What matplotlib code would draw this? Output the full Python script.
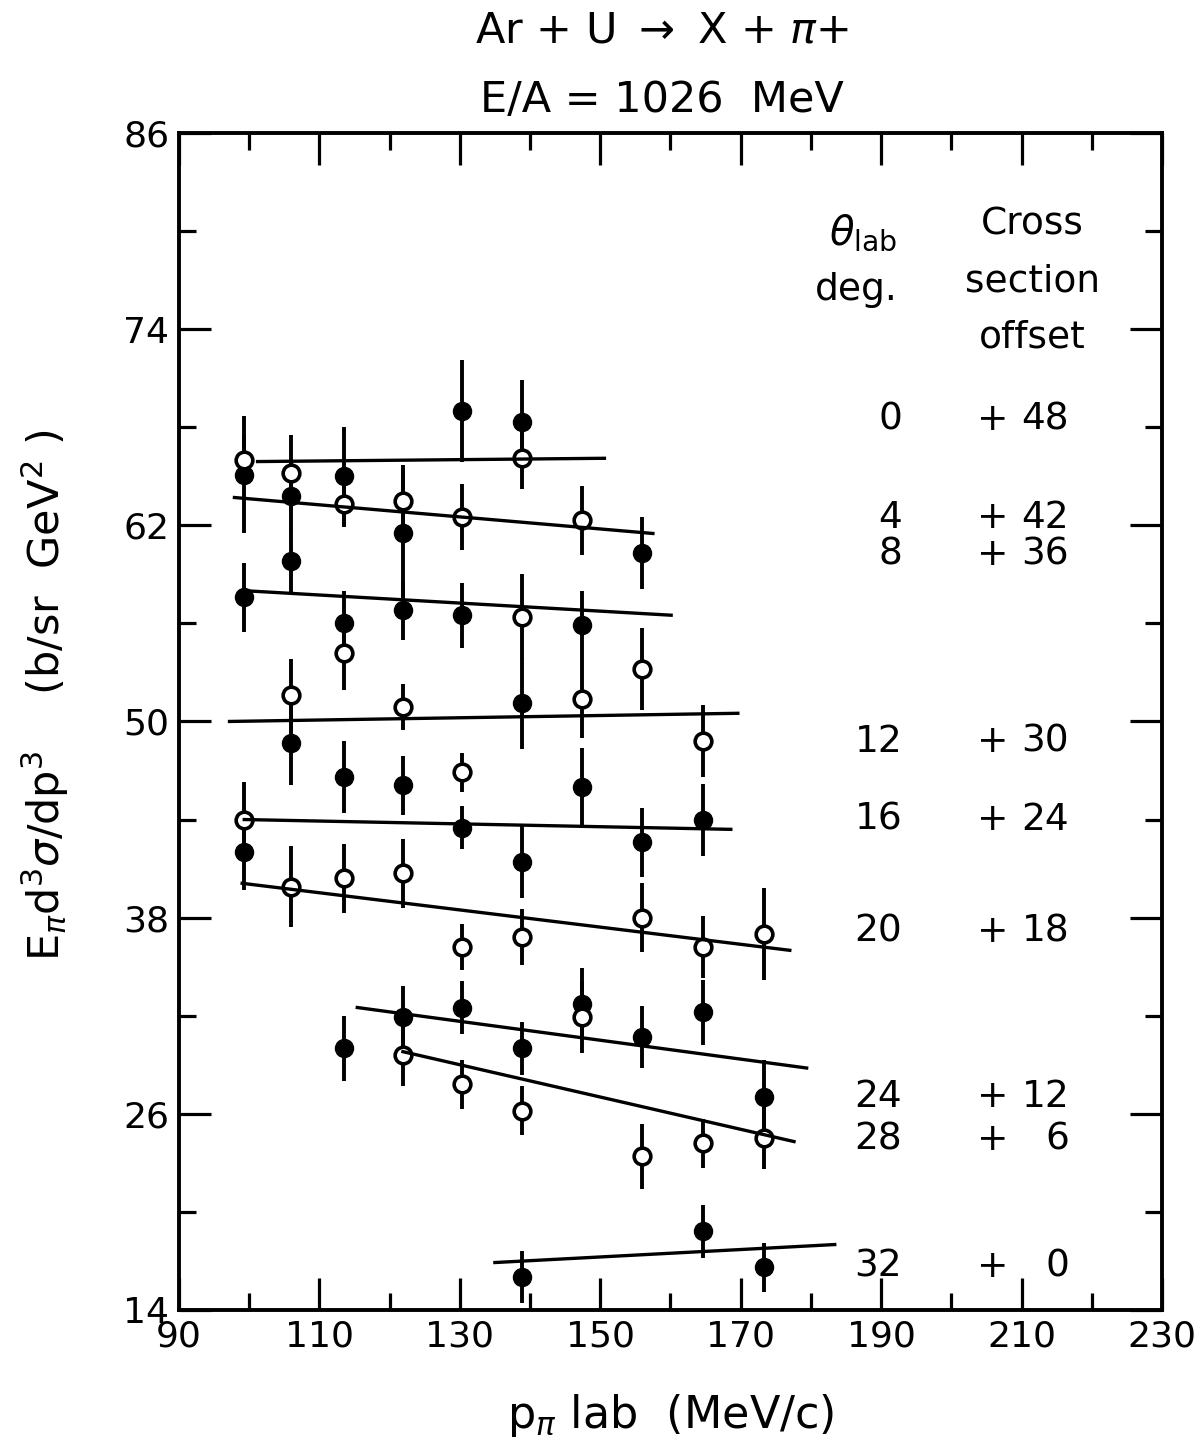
import matplotlib
matplotlib.use("Agg")
import matplotlib.pyplot as plt
import numpy as np
from matplotlib.ticker import FixedLocator

# filled circles: momentum (MeV/c), offset cross section, error
filled_p = [99.3, 99.3, 99.3, 106.0, 106.0, 106.0, 113.5, 113.5, 113.5, 113.5,
            121.9, 121.9, 121.9, 121.9, 130.3, 130.3, 130.3, 130.3,
            138.9, 138.9, 138.9, 138.9, 138.9, 147.4, 147.4, 147.4,
            155.9, 155.9, 155.9, 164.7, 164.7, 164.7, 173.3, 173.3]
filled_y = [65.1, 57.6, 42.0, 63.8, 59.8, 48.7, 65.0, 56.0, 46.6, 30.0,
            61.5, 56.8, 46.1, 31.9, 69.0, 56.5, 43.5, 32.5,
            68.3, 51.1, 41.4, 30.0, 16.0, 55.9, 46.0, 32.7,
            60.3, 42.6, 30.7, 44.0, 32.2, 18.8, 27.0, 16.6]
filled_err = [3.6, 2.1, 2.3, 2.1, 2.0, 2.6, 3.0, 2.0, 2.2, 2.0,
              4.2, 1.8, 1.8, 1.9, 3.1, 2.0, 1.3, 1.6,
              2.6, 2.8, 2.2, 1.6, 1.6, 2.1, 2.4, 2.2,
              2.2, 2.1, 1.9, 2.2, 2.0, 1.6, 2.3, 1.5]

# open circles
open_p = [99.3, 99.3, 106.0, 106.0, 106.0, 113.5, 113.5, 113.5,
          121.9, 121.9, 121.9, 121.9, 130.3, 130.3, 130.3, 130.3,
          138.9, 138.9, 138.9, 138.9, 147.4, 147.4, 147.4,
          155.9, 155.9, 155.9, 164.7, 164.7, 164.7, 173.3, 173.3]
open_y = [66.0, 44.0, 65.2, 51.6, 39.9, 63.3, 54.2, 40.4,
          63.5, 50.9, 40.7, 29.6, 62.5, 46.9, 36.2, 27.8,
          66.1, 56.4, 36.8, 26.2, 62.3, 51.4, 31.9,
          53.2, 38.0, 23.4, 48.8, 36.2, 24.2, 37.0, 24.5]
open_err = [1.5, 2.3, 2.3, 2.2, 2.5, 1.4, 2.3, 2.1,
            2.0, 1.4, 2.1, 1.9, 2.0, 1.2, 1.4, 1.5,
            1.9, 2.6, 1.7, 1.5, 2.1, 2.4, 2.2,
            2.5, 2.1, 2.0, 2.2, 1.9, 1.5, 2.8, 1.9]

# straight-line fits, one per angle: end points
fit_p0 = [101.2, 97.9, 99.3, 97.2, 99.3, 99.0, 115.4, 121.9, 135.0]
fit_y0 = [65.9, 63.7, 58.0, 50.0, 44.0, 40.1, 32.5, 29.8, 16.9]
fit_p1 = [150.6, 157.5, 160.1, 169.6, 168.6, 177.0, 179.4, 177.6, 183.4]
fit_y1 = [66.1, 61.5, 56.5, 50.5, 43.4, 36.0, 28.8, 24.3, 18.0]

# angle / offset table
angles = ["0", "4", "8", "12", "16", "20", "24", "28", "32"]
offsets = ["48", "42", "36", "30", "24", "18", "12", "6", "0"]
row_y = [68.45, 62.45, 60.2, 48.75, 43.98, 37.13, 27.04, 24.41, 16.64]

fig = plt.figure(figsize=(11.97, 14.55), dpi=100)
ax = fig.add_axes([0.1495, 0.0997, 0.8212, 0.8089])

ax.errorbar(filled_p, filled_y, yerr=filled_err, fmt='o', ms=13,
            mfc='black', mec='black', ecolor='black', elinewidth=2.8,
            capsize=0, zorder=2)
ax.errorbar(open_p, open_y, yerr=open_err, fmt='o', ms=12, mew=2.6,
            mfc='white', mec='black', ecolor='black', elinewidth=2.8,
            capsize=0, zorder=2)

for p0, p1, y0, y1 in zip(fit_p0, fit_p1, fit_y0, fit_y1):
    ax.plot([p0, p1], [y0, y1], color='black', lw=2.4, zorder=4)

ax.set_xlim(90, 230)
ax.set_ylim(14, 86)
ax.xaxis.set_major_locator(FixedLocator(np.arange(90, 231, 20)))
ax.xaxis.set_minor_locator(FixedLocator(np.arange(100, 230, 20)))
ax.yaxis.set_major_locator(FixedLocator(np.arange(14, 87, 12)))
ax.yaxis.set_minor_locator(FixedLocator(np.arange(20, 86, 12)))
ax.tick_params(which='both', direction='in', top=True, right=True,
               width=2.3, labelsize=26, pad=7)
ax.tick_params(which='major', length=23)
ax.tick_params(which='minor', length=12)
for s in ax.spines.values():
    s.set_linewidth(2.8)

# table on the right
txt = dict(fontsize=27, va='center', clip_on=False)
for a, o, y in zip(angles, offsets, row_y):
    ax.text(193.0, y, a, ha='right', **txt)
    ax.text(203.7, y, "+", ha='left', **txt)
    ax.text(216.8, y, o, ha='right', **txt)

ax.text(187.5, 79.9, r'$\theta_{\rm lab}$', ha='center', fontsize=29,
        va='center')
ax.text(186.4, 76.4, "deg.", ha='center', fontsize=27, va='center')
ax.text(211.6, 80.4, "Cross", ha='center', fontsize=27, va='center')
ax.text(211.6, 76.9, "section", ha='center', fontsize=27, va='center')
ax.text(211.6, 73.5, "offset", ha='center', fontsize=27, va='center')

fig.text(0.553, 0.979, r'Ar + U $\rightarrow$ X + $\pi$+', ha='center',
         va='center', fontsize=31)
fig.text(0.553, 0.931, "E/A = 1026  MeV", ha='center', va='center',
         fontsize=31)
fig.text(0.56, 0.027, r'p$_{\pi}$ lab  (MeV/c)', ha='center', va='center',
         fontsize=32)
fig.text(0.038, 0.522, r'E$_{\pi}$d$^3\sigma$/dp$^3$    (b/sr  GeV$^2$ )',
         ha='center', va='center', rotation=90, fontsize=31)

fig.savefig("out.png", dpi=100)
